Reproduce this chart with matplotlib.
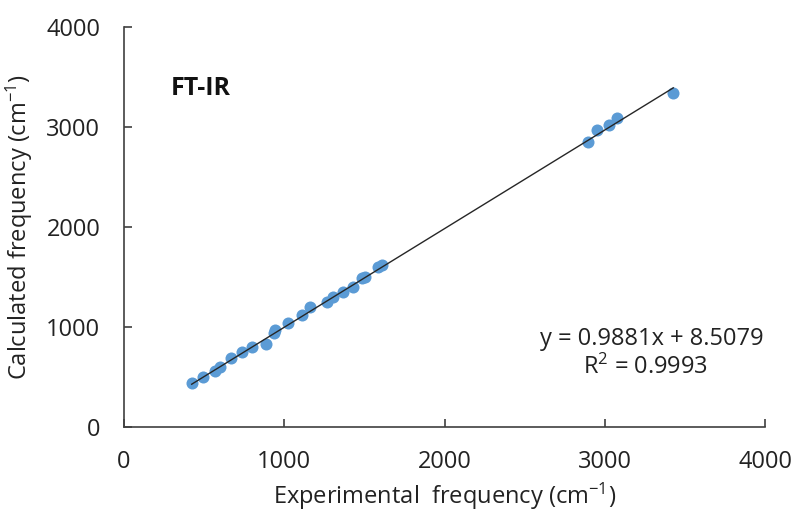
import numpy as np
import matplotlib
matplotlib.use("Agg")
import matplotlib.pyplot as plt

plt.rcParams['font.family'] = ['Open Sans', 'DejaVu Sans']
plt.rcParams['mathtext.fontset'] = 'custom'
plt.rcParams['mathtext.rm'] = 'Open Sans'
plt.rcParams['mathtext.it'] = 'Open Sans:italic'

# данные: экспериментальные и рассчитанные частоты (см-1)
exp_freq = [422, 495, 568, 599, 665, 734, 796, 884, 937, 942, 1025, 1112, 1160,
            1264, 1305, 1368, 1430, 1483, 1503, 1586, 1607,
            2896, 2952, 3027, 3073, 3426]
calc_freq = [441, 501, 561, 601, 691, 751, 801, 828, 935, 968, 1036, 1119, 1196,
             1252, 1302, 1352, 1402, 1486, 1502, 1602, 1619,
             2854, 2971, 3022, 3089, 3345]

# линейный тренд
slope = 0.9881
intercept = 8.5079
r2 = 0.9993

ticks = [0, 1000, 2000, 3000, 4000]

fig = plt.figure(figsize=(7.91, 5.12), dpi=100)
ax = fig.add_axes([0.1568, 0.1666, 0.8107, 0.78])

ax.scatter(exp_freq, calc_freq, s=75, color='#5B9BD5', zorder=2, linewidths=0)

fx = np.linspace(min(exp_freq), max(exp_freq), 50)
ax.plot(fx, slope * fx + intercept, color='#262626', linewidth=1.0, zorder=3)

ax.set_xlim(0, 4000)
ax.set_ylim(0, 4000)
ax.set_xticks(ticks)
ax.set_yticks(ticks)
ax.tick_params(direction='in', length=6, width=1.2, colors='#404040',
               labelsize=17, labelcolor='#222222', pad=17)

for s in ['top', 'right']:
    ax.spines[s].set_visible(False)
for s in ['left', 'bottom']:
    ax.spines[s].set_color('#404040')
    ax.spines[s].set_linewidth(1.2)

ax.set_xlabel('Experimental  frequency (cm$^{-1}$)', fontsize=17, color='#222222', labelpad=5)
ax.set_ylabel('Calculated frequency (cm$^{-1}$)', fontsize=17, color='#222222', labelpad=8)

ax.text(290, 3390, 'FT-IR', fontsize=18, fontweight='bold', color='#111111',
        ha='left', va='center')
ax.text(3290, 880, 'y = %.4fx + %.4f' % (slope, intercept), fontsize=17,
        color='#222222', ha='center', va='center')
ax.text(3250, 590, 'R$^2$ = %.4f' % r2, fontsize=17,
        color='#222222', ha='center', va='center')

fig.savefig('out.png', dpi=100)
